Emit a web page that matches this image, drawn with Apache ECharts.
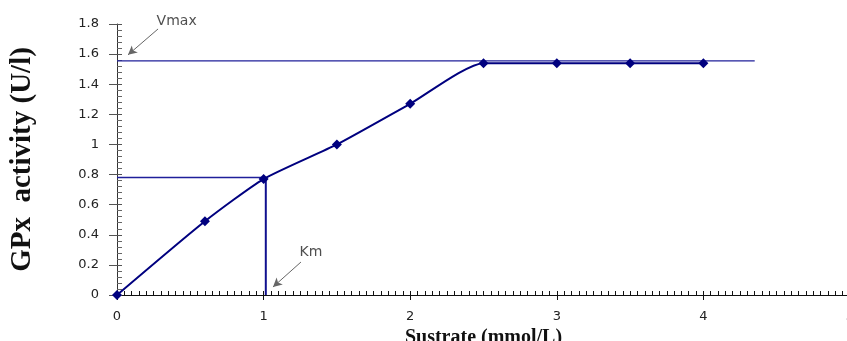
<!DOCTYPE html>
<html>
<head>
<meta charset="utf-8">
<script src="https://cdn.jsdelivr.net/npm/echarts@6/dist/echarts.min.js"></script>
<style>
  html, body { margin: 0; padding: 0; background: #fff; }
  #chart { width: 847px; height: 341px; }
</style>
</head>
<body>
<div id="chart"></div>
<script>
// Michaelis–Menten style saturation curve of GPx activity vs substrate
const substrate = [0, 0.6, 1, 1.5, 2, 2.5, 3, 3.5, 4];          // mmol/L
const activity  = [0, 0.49, 0.77, 1.0, 1.27, 1.54, 1.54, 1.54, 1.54]; // U/l

// Reference values read on the curve
const vmax = 1.555;        // plateau activity
const vmaxLineEnd = 4.35;  // how far the Vmax guide runs along x
const halfVmax = 0.78;     // Vmax / 2
const km = 1.015;          // substrate at half-maximal activity

// Annotation labels and the arrows that point to them
const annotations = [
  { text: 'Vmax', at: [0.27, 1.82], from: [0.28, 1.767], to: [0.075, 1.595] },
  { text: 'Km',   at: [1.245, 0.285], from: [1.255, 0.219], to: [1.064, 0.053] }
];

const xTicks = { min: 0, max: 5, step: 1, minorSplit: 20 };
const yTicks = { min: 0, max: 1.8, step: 0.2, minorSplit: 5 };

const navy = '#00007f';
const guide = '#1f1f9a';
const tickFont = { fontFamily: 'DejaVu Sans', fontSize: 13, color: '#222' };

const chart = echarts.init(document.getElementById('chart'), null, { renderer: 'canvas' });

const pairs = substrate.map((x, i) => [x, activity[i]]);

chart.setOption({
  animation: false,
  backgroundColor: '#fff',
  grid: { left: 117, right: -3, top: 24, bottom: 46, containLabel: false, outerBoundsMode: 'none' },
  xAxis: [
    {
      type: 'value', min: xTicks.min, max: xTicks.max, interval: xTicks.step,
      name: 'Sustrate (mmol/L)', nameLocation: 'middle', nameGap: 30,
      nameTextStyle: { fontFamily: 'Liberation Serif', fontWeight: 'bold', fontSize: 20, color: '#111', verticalAlign: 'top' },
      axisLine: { show: true, onZero: false, lineStyle: { color: '#111', width: 1 } },
      axisTick: { show: true, inside: false, length: 5, lineStyle: { color: '#111' } },
      minorTick: { show: false },
      axisLabel: Object.assign({ margin: 15, showMaxLabel: true, hideOverlap: false }, tickFont),
      splitLine: { show: false }
    },
    {
      // inner half of the crossing ticks plus minor ticks
      type: 'value', position: 'bottom', offset: 0,
      min: xTicks.min, max: xTicks.max, interval: xTicks.step,
      axisLine: { show: false, onZero: false },
      axisTick: { show: true, inside: true, length: 4, lineStyle: { color: '#111' } },
      minorTick: { show: true, splitNumber: xTicks.minorSplit, length: 4, lineStyle: { color: '#111' } },
      axisLabel: { show: false },
      splitLine: { show: false }
    }
  ],
  yAxis: [
    {
      type: 'value', min: yTicks.min, max: yTicks.max, interval: yTicks.step,
      name: 'GPx  activity (U/l)', nameLocation: 'middle', nameGap: 80, nameRotate: 90,
      nameTextStyle: { fontFamily: 'Liberation Serif', fontWeight: 'bold', fontSize: 29, color: '#111' },
      axisLine: { show: true, onZero: false, lineStyle: { color: '#333', width: 1 } },
      axisTick: { show: true, inside: false, length: 8, lineStyle: { color: '#555' } },
      axisLabel: Object.assign({ margin: 18, formatter: v => String(+v.toFixed(1)) }, tickFont),
      splitLine: { show: false }
    },
    {
      type: 'value', position: 'left', offset: 0,
      min: yTicks.min, max: yTicks.max, interval: yTicks.step,
      axisLine: { show: false, onZero: false },
      axisTick: { show: true, inside: true, length: 5, lineStyle: { color: '#555' } },
      minorTick: { show: true, splitNumber: yTicks.minorSplit, length: 5, lineStyle: { color: '#666' } },
      axisLabel: { show: false },
      splitLine: { show: false }
    }
  ],
  series: [
    {
      name: 'Vmax', type: 'line', symbol: 'none', silent: true, z: 2,
      data: [[0, vmax], [vmaxLineEnd, vmax]],
      lineStyle: { color: guide, width: 1.4 }
    },
    {
      name: 'Vmax/2', type: 'line', symbol: 'none', silent: true, z: 2,
      data: [[0, halfVmax], [km, halfVmax]],
      lineStyle: { color: guide, width: 1.4 }
    },
    {
      name: 'Km', type: 'line', symbol: 'none', silent: true, z: 2,
      data: [[km, halfVmax], [km, 0]],
      lineStyle: { color: '#10108f', width: 2 }
    },
    {
      name: 'GPx', type: 'line', smooth: 0.2, z: 3,
      data: pairs,
      symbol: 'diamond', symbolSize: 10,
      itemStyle: { color: navy },
      lineStyle: { color: navy, width: 2 }
    },
    {
      name: 'notes', type: 'scatter', symbolSize: 0, silent: true, z: 4, clip: false,
      data: annotations.map(a => ({ value: a.at, name: a.text })),
      label: {
        show: true, position: 'right', distance: 0, formatter: p => p.name,
        fontFamily: 'DejaVu Sans', fontSize: 14, color: '#222'
      },
      markLine: {
        silent: true, symbol: ['none', 'arrow'], symbolSize: [7, 9],
        label: { show: false },
        lineStyle: { color: '#666', width: 1, type: 'solid' },
        data: annotations.map(a => [{ coord: a.from }, { coord: a.to }])
      }
    }
  ]
});
</script>
</body>
</html>
